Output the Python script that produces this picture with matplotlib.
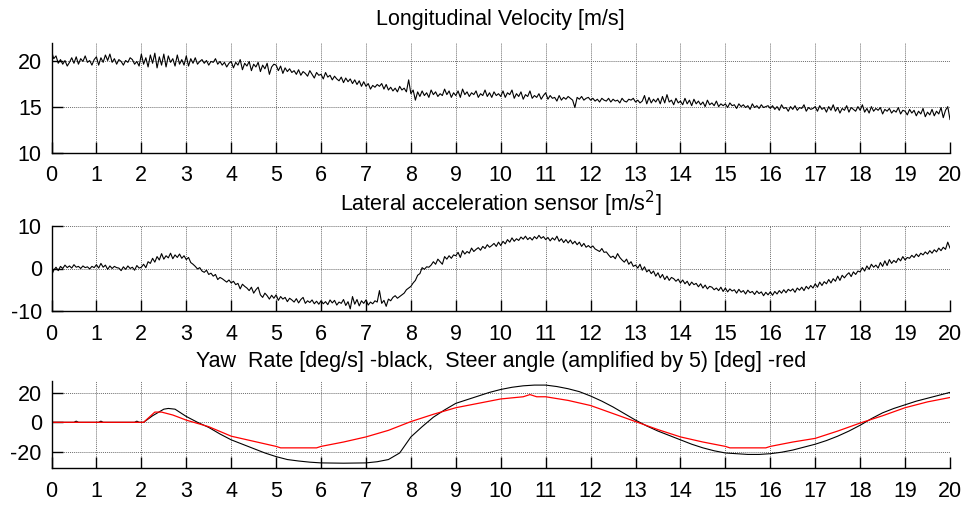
import numpy as np
import matplotlib
matplotlib.use("Agg")
import matplotlib.pyplot as plt

plt.rcParams['font.family'] = ['Liberation Sans', 'DejaVu Sans']
plt.rcParams['axes.unicode_minus'] = False

# ---------------- data ----------------
t_noisy = np.round(np.arange(0, 20.0001, 0.05), 3)

velocity = [
    21.0, 20.2, 20.5, 19.7, 20.1, 19.6, 20.0, 19.4, 19.8, 20.3, 19.7, 20.4, 19.6, 20.2, 19.9, 20.5, 19.8, 20.0, 19.5, 20.1,
    20.4, 19.5, 20.3, 19.8, 20.6, 20.0, 20.7, 19.8, 20.2, 19.6, 20.1, 19.9, 19.5, 20.0, 19.8, 20.3, 20.1, 19.6, 19.9, 19.4,
    20.7, 19.6, 20.3, 19.3, 20.6, 19.7, 20.8, 19.2, 20.4, 19.5, 20.7, 19.3, 20.5, 19.8, 20.2, 19.4, 20.6, 19.6, 20.1, 19.5,
    20.5, 19.4, 20.2, 19.7, 20.3, 19.6, 19.9, 20.1, 19.7, 20.0, 19.5, 19.9, 19.8, 20.2, 19.6, 19.9, 19.5, 19.8, 19.3, 19.7,
    19.9, 19.2, 19.8, 19.5, 20.1, 19.0, 19.7, 19.4, 19.9, 18.9, 19.6, 19.3, 19.8, 18.8, 19.5, 19.1, 19.7, 18.5, 19.3, 19.6,
    19.5, 18.9, 19.4, 18.6, 19.2, 18.8, 19.1, 18.7, 18.9, 18.5, 19.0, 18.4, 18.8, 18.6, 18.3, 18.9, 18.5, 18.1, 18.7, 18.4,
    18.5, 18.0, 18.7, 18.2, 18.4, 17.9, 18.3, 18.0, 17.8, 18.2, 17.6, 18.1, 17.7, 18.0, 17.5, 17.9, 17.4, 17.8, 17.2, 17.7,
    17.2, 17.5, 16.9, 17.3, 17.1, 17.4, 17.2, 17.5, 16.9, 17.4, 16.8, 17.1, 16.7, 17.0, 16.6, 17.2, 16.8, 17.0, 16.6, 17.9,
    16.4, 16.8, 15.7, 16.6, 16.1, 16.7, 16.2, 16.5, 16.0, 16.8, 16.3, 16.6, 16.1, 16.4, 16.2, 16.9, 16.3, 16.7, 16.0, 16.5,
    16.2, 16.7, 16.0, 16.9, 16.3, 16.6, 16.1, 16.5, 16.3, 16.7, 16.0, 16.4, 16.2, 16.8, 16.1, 16.5, 16.0, 16.6, 16.2, 16.4,
    16.1, 16.7, 16.0, 16.5, 16.3, 16.8, 15.9, 16.4, 16.1, 16.6, 15.8, 16.3, 16.1, 16.7, 15.9, 16.2, 16.0, 16.4, 15.8, 16.2,
    16.5, 15.8, 16.2, 15.9, 16.0, 15.6, 16.2, 15.7, 16.0, 15.8, 16.1, 15.9, 15.7, 14.9, 16.0, 15.8, 16.1, 15.7, 15.9, 16.0,
    15.7, 15.9, 15.6, 15.8, 15.5, 15.9, 15.7, 15.6, 15.9, 15.5, 15.8, 15.6, 15.7, 15.4, 15.9, 15.6, 15.5, 15.8, 15.7, 15.9,
    15.5, 15.7, 15.4, 15.6, 16.2, 15.3, 16.0, 15.4, 15.8, 15.5, 15.9, 15.3, 16.1, 15.4, 16.3, 15.5, 15.7, 15.2, 15.9, 15.4,
    15.6, 15.2, 15.9, 15.3, 15.7, 15.1, 15.8, 15.3, 15.6, 15.2, 15.5, 15.0, 15.7, 15.2, 15.4, 15.1, 15.6, 15.0, 15.3, 15.1,
    15.3, 14.9, 15.4, 15.1, 15.2, 14.8, 15.3, 15.0, 15.2, 14.9, 15.1, 14.7, 15.3, 14.9, 15.1, 14.8, 15.2, 14.9, 15.0, 15.1,
    14.8, 15.1, 14.7, 15.0, 14.6, 15.2, 14.8, 14.9, 14.5, 15.0, 14.7, 15.1, 14.6, 14.9, 14.8, 15.2, 14.5, 14.9, 14.7, 14.8,
    15.0, 14.5, 15.1, 14.7, 14.9, 14.4, 15.0, 14.6, 15.2, 14.5, 14.9, 14.3, 14.8, 14.6, 15.1, 14.4, 14.9, 14.7, 14.5, 15.0,
    14.6, 15.2, 14.4, 14.8, 14.3, 15.0, 14.5, 14.8, 14.6, 14.9, 14.2, 14.7, 14.5, 14.8, 14.3, 14.6, 14.4, 14.9, 14.2, 14.6,
    14.5, 14.1, 14.7, 14.3, 14.6, 14.0, 14.5, 14.2, 14.8, 13.9, 14.4, 14.1, 14.7, 14.0, 14.5, 14.2, 14.9, 13.8, 14.6, 15.0,
    13.6,
]

lat_acc = [
    -1.6, -0.4, 0.3, -0.5, 0.5, 0.0, 0.8, 0.2, 0.6, 0.1, 0.9, 0.3, 0.5, 0.0, 0.6, 0.2, 0.4, -0.1, 0.5, 0.2,
    0.9, 0.1, 1.2, 0.3, 0.8, -0.2, 0.6, 0.0, 0.5, 0.2, 0.1, -0.5, 0.4, -0.2, 0.6, 0.0, 0.3, -0.4, 0.7, 0.1,
    0.3, 1.0, 0.2, 1.6, 1.2, 2.4, 1.5, 2.8, 2.0, 3.5, 2.2, 3.0, 2.5, 3.6, 2.3, 3.2, 2.6, 3.4, 2.4, 3.0,
    2.1, 2.6, 1.4, 1.0, 0.5, -0.1, 0.2, -0.6, -0.9, -0.4, -1.4, -1.1, -1.8, -1.4, -2.6, -2.1, -2.4, -2.8, -3.2, -2.7,
    -3.4, -3.0, -3.8, -3.5, -4.8, -3.7, -4.2, -4.6, -5.2, -4.4, -5.8, -5.0, -4.4, -6.2, -6.8, -5.8, -6.4, -7.2, -6.3, -7.0,
    -6.2, -7.5, -6.6, -7.2, -6.8, -7.8, -7.0, -7.4, -7.9, -7.1, -8.1, -7.3, -6.8, -8.2, -7.6, -8.0, -7.4, -8.3, -7.7, -8.4,
    -7.6, -8.3, -7.8, -8.5, -7.4, -8.1, -7.5, -8.6, -7.9, -8.2, -7.3, -8.7, -7.8, -9.5, -6.6, -8.4, -7.3, -8.8, -7.6, -8.2,
    -7.4, -8.6, -7.9, -8.3, -7.6, -7.9, -5.2, -8.2, -7.5, -8.9, -7.2, -7.6, -6.8, -6.4, -7.0, -6.6, -6.2, -5.8, -5.0, -4.6,
    -4.2, -3.4, -2.8, -1.6, -1.2, 0.2, -0.2, 0.4, 0.3, 0.8, 1.6, 1.0, 2.2, 1.6, 1.0, 2.8, 2.2, 3.0, 2.4, 3.2,
    3.0, 3.8, 2.6, 4.2, 3.4, 4.0, 3.6, 4.8, 4.0, 4.5, 4.9, 4.3, 5.2, 4.7, 5.6, 5.0, 5.4, 5.9, 5.2, 6.2,
    5.4, 6.4, 5.8, 6.8, 6.2, 7.2, 6.4, 7.0, 6.6, 7.4, 6.9, 7.6, 6.8, 7.3, 6.7, 7.5, 7.0, 7.8, 7.1, 7.5,
    6.8, 7.3, 6.5, 7.2, 6.7, 7.6, 6.4, 7.0, 6.1, 6.8, 6.0, 6.7, 5.8, 6.4, 5.6, 6.2, 5.2, 5.9, 5.0, 5.4,
    4.9, 5.3, 4.6, 4.3, 4.0, 4.7, 3.8, 3.9, 3.2, 2.6, 2.9, 2.3, 3.5, 2.6, 2.0, 1.5, 2.2, 1.0, 1.6, 0.5,
    0.8, 0.1, 1.0, -0.4, 0.4, -0.8, -0.3, -1.2, -0.6, -1.8, -1.0, -2.2, -1.4, -2.6, -1.8, -2.8, -2.1, -2.4, -3.0, -2.5,
    -3.4, -2.7, -3.6, -3.0, -4.0, -3.2, -3.8, -3.5, -4.3, -3.6, -4.6, -3.9, -4.8, -4.2, -4.4, -5.0, -4.6, -5.2, -4.4, -5.4,
    -4.6, -5.5, -4.8, -5.3, -5.0, -5.8, -4.9, -5.6, -5.2, -6.0, -5.1, -5.7, -5.4, -6.1, -5.3, -5.9, -5.5, -6.4, -5.6, -6.2,
    -5.5, -6.3, -5.4, -6.0, -5.2, -5.8, -5.0, -5.7, -4.9, -5.3, -4.8, -5.6, -4.6, -5.1, -4.4, -5.2, -4.2, -4.8, -4.0, -4.6,
    -3.6, -4.4, -3.2, -4.0, -3.1, -3.6, -2.6, -3.4, -2.4, -3.0, -1.8, -2.8, -1.6, -2.2, -1.5, -1.0, -1.9, -0.8, -1.4, -0.6,
    -0.8, 0.2, -0.6, 0.6, -0.2, 1.0, 0.3, 0.8, 0.1, 1.4, 0.5, 1.8, 0.7, 2.1, 1.2, 1.9, 1.4, 2.4, 1.8, 2.8,
    2.0, 2.6, 2.4, 3.1, 2.6, 3.4, 2.8, 3.6, 3.2, 3.9, 3.4, 4.2, 3.6, 4.4, 3.9, 4.8, 4.2, 5.0, 4.5, 6.2,
    4.8,
]

yaw_t = [0, 0.5, 0.55, 0.6, 1.05, 1.1, 1.15, 1.85, 1.9, 1.95, 2.05, 2.25, 2.5, 2.6,
         2.75, 3.0, 3.25, 3.5, 3.75, 4.0, 4.25, 4.5, 4.75, 5.0, 5.25, 5.5,
         5.75, 6.0, 6.5, 7.0, 7.25, 7.5, 7.75, 8.0, 8.25, 8.5, 8.75, 9.0,
         9.25, 9.5, 9.75, 10.0, 10.25, 10.5, 10.75, 11.0, 11.25, 11.5, 11.75,
         12.0, 12.25, 12.5, 12.75, 13.0, 13.25, 13.5, 13.75, 14.0, 14.25,
         14.5, 14.75, 15.0, 15.25, 15.5, 15.75, 16.0, 16.25, 16.5, 16.75,
         17.0, 17.25, 17.5, 17.75, 18.0, 18.25, 18.5, 18.75, 19.0, 19.25,
         19.5, 19.75, 20.0]
yaw_rate = [0, 0, 0.8, 0, 0, 0.8, 0, 0, 0.8, 0, 0, 4.5, 9.0, 9.5,
            9.0, 4.0, 0.0, -3.5, -8.0, -12.0, -15.0, -18.0, -21.0, -23.5, -25.5, -26.5,
            -27.3, -27.8, -28.0, -27.8, -27.0, -25.5, -21.0, -10.0, -3.0, 3.5, 8.5, 13.0,
            15.5, 18.0, 20.5, 22.5, 24.0, 25.0, 25.5, 25.5, 24.5, 23.0, 21.0,
            18.0, 14.5, 10.5, 6.0, 1.5, -2.5, -6.0, -9.0, -12.0, -15.0,
            -17.5, -19.5, -21.0, -21.5, -22.0, -22.0, -21.5, -20.5, -19.0, -17.0,
            -15.0, -12.5, -9.5, -6.0, -2.0, 2.5, 6.5, 9.5, 12.0, 14.5,
            16.5, 18.5, 20.5]

steer_t = [0, 2.05, 2.3, 2.45, 2.7, 3.0, 3.5, 4.0, 4.5, 5.0, 5.1, 5.9, 6.0,
           6.5, 7.0, 7.5, 8.0, 8.5, 9.0, 9.5, 10.0, 10.5, 10.65, 10.8, 11.0,
           11.5, 12.0, 12.5, 13.0, 13.5, 14.0, 14.5, 15.0, 15.1, 15.9, 16.0,
           16.5, 17.0, 17.5, 18.0, 18.5, 19.0, 19.5, 20.0]
steer_x5 = [0, 0, 7.0, 7.0, 5.0, 1.5, -3.0, -9.5, -13.0, -16.5, -17.5, -17.5, -16.5,
            -13.5, -10.0, -5.5, 0.5, 5.5, 10.0, 13.0, 16.0, 17.5, 19.0, 17.5, 17.5,
            15.0, 11.5, 6.0, 0.5, -5.0, -10.0, -13.5, -16.5, -17.5, -17.5, -16.5,
            -13.5, -11.0, -6.0, -0.5, 4.5, 10.0, 14.0, 17.0]

titles = ['Longitudinal Velocity [m/s]',
          'Lateral acceleration sensor [m/s$^2$]',
          'Yaw  Rate [deg/s] -black,  Steer angle (amplified by 5) [deg] -red']
x_ticks = list(range(0, 21))

# ---------------- figure ----------------
W, H = 969, 505
fig = plt.figure(figsize=(W / 100, H / 100), dpi=100)

def frac(l, t, r, b):
    return [l / W, 1 - b / H, (r - l) / W, (b - t) / H]

ax1 = fig.add_axes(frac(51.5, 43, 950, 152.7))
ax2 = fig.add_axes(frac(51.5, 226, 950, 311))
ax3 = fig.add_axes(frac(51.5, 381, 950, 468.3))

ax1.plot(t_noisy[:len(velocity)], velocity, color='black', lw=0.8)
ax2.plot(t_noisy[:len(lat_acc)], lat_acc, color='black', lw=0.8)
ax3.plot(yaw_t, yaw_rate, color='black', lw=0.8)
ax3.plot(steer_t, steer_x5, color='red', lw=0.9)

ax1.set_ylim(10, 21.9)
ax1.set_yticks([10, 15, 20])
ax2.set_ylim(-10, 10)
ax2.set_yticks([-10, 0, 10])
ax3.set_ylim(-31.5, 28.3)
ax3.set_yticks([-20, 0, 20])

for ax, ttl, tpad in zip((ax1, ax2, ax3), titles, (13, 11, 10)):
    ax.set_xlim(0, 20)
    ax.set_xticks(x_ticks)
    ax.grid(True, color='#6e6e6e', linestyle=(0, (1, 1)), linewidth=0.7)
    ax.set_axisbelow(True)
    for s in ('top', 'right'):
        ax.spines[s].set_visible(False)
    for s in ('left', 'bottom'):
        ax.spines[s].set_linewidth(1.0)
        ax.spines[s].set_color('black')
    ax.tick_params(direction='in', length=8, width=1.0, labelsize=15.5,
                   colors='black')
    ax.tick_params(axis='x', pad=9)
    ax.tick_params(axis='y', pad=7)
    ax.set_title(ttl, fontsize=15.5, pad=tpad)

fig.savefig('out.png', dpi=100)
